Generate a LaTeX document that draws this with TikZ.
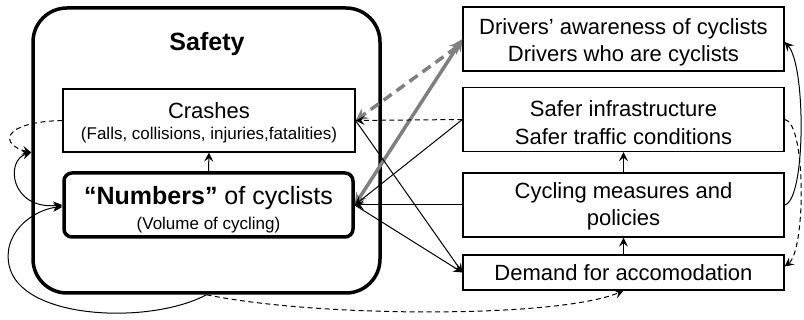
\documentclass[tikz,border=0pt]{standalone}
\usepackage{fontspec}
\setmainfont{Liberation Sans}
\usetikzlibrary{arrows.meta}
\begin{document}
\begin{tikzpicture}[x=1pt,y=-1pt,
  rbox/.style={draw, line width=1.3pt, inner sep=0pt, minimum width=321pt},
  rtext/.style={inner sep=0pt, align=center, font=\fontsize{22}{27.5}\selectfont},
  crashbox/.style={draw, line width=1.2pt, inner sep=0pt},
  numbox/.style={draw, line width=3.5pt, rounded corners=8pt, inner sep=0pt},
  ltext/.style={inner sep=0pt, align=center},
  safebox/.style={draw, line width=3.5pt, rounded corners=34pt, inner sep=0pt},
  arr/.style={-{Stealth[length=9pt,width=9pt,inset=3.5pt]}, line width=1pt},
  dsh/.style={dash pattern=on 5pt off 3.5pt},
  garr/.style={{Stealth[length=12pt,width=12pt,inset=4pt]}-{Stealth[length=12pt,width=12pt,inset=4pt]}, line width=3.5pt, draw=black!50, color=black!50},
]
\useasboundingbox (0,0) rectangle (804,320);
\node[safebox, minimum width=347pt, minimum height=285pt] (safety) at (206.5,150.5) {};
\node[font=\bfseries\fontsize{25}{30}\selectfont] (title) at (207,44) {Safety};
\node[crashbox, minimum width=292pt, minimum height=63pt] (crashes) at (209,120.5) {};
\node[ltext, font=\fontsize{22}{26}\selectfont] (crashest) at (209,123)
  {Crashes\\[-5pt]{\fontsize{17}{20}\selectfont (Falls, collisions, injuries,fatalities)}};
\node[numbox, minimum width=289pt, minimum height=64pt] (numbers) at (208.5,205) {};
\node[ltext, font=\fontsize{25}{28}\selectfont] (numberst) at (208.5,209.5)
  {\textbf{“Numbers”} of cyclists\\[-3pt]{\fontsize{17}{20}\selectfont (Volume of cycling)}};

\node[rbox, minimum height=64pt] (drivers) at (623.5,39) {};
\node[rtext] (driverst) at (623.5,42.5) {Drivers’ awareness of cyclists\\Drivers who are cyclists};
\node[rbox, minimum height=64pt] (safer) at (623.5,119.5) {};
\node[rtext] (safert) at (623.5,122.5) {Safer infrastructure\\Safer traffic conditions};
\node[rbox, minimum height=64pt] (cycling) at (623.5,205) {};
\node[rtext] (cyclingt) at (623.5,206.5) {Cycling measures and\\policies};
\node[rbox, minimum height=35pt] (demand) at (623.5,272.5) {};
\node[rtext] (demandt) at (623.5,272.5) {Demand for accomodation};

% vertical arrows
\draw[arr] (numbers.north) -- (crashes.south);
\draw[arr] (cycling.north) -- (safer.south);
\draw[arr] (demand.north) -- (cycling.south);

% gray arrows
\draw[garr] (numbers.east) -- (drivers.west);
\draw[garr, dash pattern=on 10pt off 6pt] ([yshift=-4pt]drivers.west) -- (crashes.east);

% black connectors in the middle
\draw[arr, dsh] (safer.west) -- (crashes.east);
\draw[arr] (safer.west) -- (numbers.east);
\draw[arr] (cycling.west) -- (numbers.east);
\draw[arr] (crashes.east) -- (demand.west);
\draw[arr] (numbers.east) -- (demand.west);

% right curves
\draw[arr] (cycling.east) .. controls (806,200) and (806,65) .. ([yshift=-3pt]drivers.east);
\draw[arr, dsh] (safer.east) .. controls (806,122) and (806,250) .. ([yshift=6pt]demand.east);

% left curves
\draw[arr, dsh] (crashes.west) .. controls (0,122) and (0,145) .. ([yshift=-2pt]safety.west);
\draw[{Stealth[length=9pt,width=9pt,inset=3.5pt]}-{Stealth[length=9pt,width=9pt,inset=3.5pt]}, line width=1pt]
  ([yshift=-2pt]safety.west) .. controls (5,160) and (10,210) .. (numbers.west);

% bottom curves
\draw[arr] (safety.south) .. controls (150,325) and (20,320) .. (9,265)
  .. controls (2,228) and (40,208) .. ([yshift=-2pt]numbers.west);
\draw[arr, dsh] (safety.south) .. controls (320,318) and (560,318) .. (demand.south);
\end{tikzpicture}
\end{document}
